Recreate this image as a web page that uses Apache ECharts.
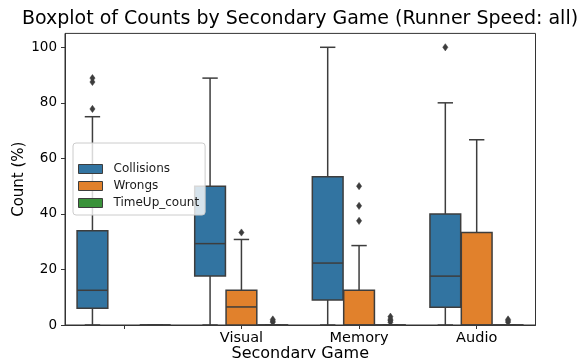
<!DOCTYPE html>
<html>
<head>
<meta charset="utf-8">
<script src="https://cdn.jsdelivr.net/npm/echarts@6/dist/echarts.min.js"></script>
<style>
  html, body { margin: 0; padding: 0; background: #ffffff; }
  #chart { width: 579px; height: 358px; }
</style>
</head>
<body>
<div id="chart"></div>
<script>
// Categories along the x axis (first group has no secondary game label)
const categories = ['', 'Visual', 'Memory', 'Audio'];
const hueNames = ['Collisions', 'Wrongs', 'TimeUp_count'];
const hueColors = ['#3274a1', '#e1812c', '#3a923a'];
const yTicks = [0, 20, 40, 60, 80, 100];

// Box statistics per category: [whisker low, Q1, median, Q3, whisker high]
const collisionsStats = [
  [0, 6.0, 12.5, 33.9, 75.0],
  [0, 17.6, 29.3, 50.0, 88.9],
  [0, 9.0, 22.3, 53.4, 100.0],
  [0, 6.4, 17.6, 40.0, 80.0]
];
const wrongsStats = [
  null,
  [0, 0, 6.5, 12.5, 30.8],
  [0, 0, 0, 12.5, 28.6],
  [0, 0, 0, 33.3, 66.7]
];
const timeUpStats = [
  [0, 0, 0, 0, 0],
  [0, 0, 0, 0, 0],
  [0, 0, 0, 0, 0],
  [0, 0, 0, 0, 0]
];

// Flier points per category
const collisionsOutliers = [[77.8, 87.5, 88.9], [], [], [100]];
const wrongsOutliers = [[], [33.3], [37.5, 42.9, 50.0], []];
const timeUpOutliers = [[], [1.0, 1.4, 2.0], [1.0, 1.6, 2.1, 3.0], [1.0, 1.5, 2.0]];

const statsByHue = [collisionsStats, wrongsStats, timeUpStats];
const outliersByHue = [collisionsOutliers, wrongsOutliers, timeUpOutliers];

const EDGE = '#3d3d3d';
const GROUP_WIDTH = 0.8;
const nHue = hueNames.length;

function hueOffset(h) {
  return (h - (nHue - 1) / 2) * GROUP_WIDTH / nHue;
}

function makeBoxRender(h, color) {
  return function (params, api) {
    const cat = api.value(0);
    const band = api.size([1, 0])[0];
    const cx = api.coord([cat, 0])[0] + hueOffset(h) * band;
    const w = band * GROUP_WIDTH / nHue * 0.98;
    const y = (v) => api.coord([cat, v])[1];
    const lo = y(api.value(1)), q1 = y(api.value(2)), med = y(api.value(3)),
          q3 = y(api.value(4)), hi = y(api.value(5));
    const lineStyle = { stroke: EDGE, lineWidth: 1.5, fill: null };
    return {
      type: 'group',
      children: [
        { type: 'line', shape: { x1: cx, y1: q1, x2: cx, y2: lo }, style: lineStyle },
        { type: 'line', shape: { x1: cx, y1: q3, x2: cx, y2: hi }, style: lineStyle },
        { type: 'line', shape: { x1: cx - w / 4, y1: lo, x2: cx + w / 4, y2: lo }, style: lineStyle },
        { type: 'line', shape: { x1: cx - w / 4, y1: hi, x2: cx + w / 4, y2: hi }, style: lineStyle },
        { type: 'rect', shape: { x: cx - w / 2, y: q3, width: w, height: q1 - q3 },
          style: { fill: color, stroke: EDGE, lineWidth: 1.5 } },
        { type: 'line', shape: { x1: cx - w / 2, y1: med, x2: cx + w / 2, y2: med }, style: lineStyle }
      ]
    };
  };
}

function makeFlierRender(h) {
  return function (params, api) {
    const cat = api.value(0);
    const band = api.size([1, 0])[0];
    const p = api.coord([cat, api.value(1)]);
    const cx = p[0] + hueOffset(h) * band;
    const cy = p[1];
    const hw = 2.6, hh = 3.6;
    return {
      type: 'polygon',
      shape: { points: [[cx, cy - hh], [cx + hw, cy], [cx, cy + hh], [cx - hw, cy]] },
      style: { fill: EDGE, stroke: EDGE, lineWidth: 0.5 }
    };
  };
}

const series = [];
for (let h = 0; h < nHue; h++) {
  const boxData = [];
  statsByHue[h].forEach((s, i) => { if (s) boxData.push([i].concat(s)); });
  const flierData = [];
  outliersByHue[h].forEach((list, i) => list.forEach(v => flierData.push([i, v])));
  series.push({
    name: hueNames[h],
    type: 'custom',
    renderItem: makeBoxRender(h, hueColors[h]),
    itemStyle: { color: hueColors[h] },
    encode: { x: 0, y: [1, 2, 3, 4, 5] },
    clip: false,
    z: 2,
    data: boxData
  });
  series.push({
    name: hueNames[h],
    type: 'custom',
    renderItem: makeFlierRender(h),
    itemStyle: { color: hueColors[h] },
    encode: { x: 0, y: 1 },
    clip: false,
    z: 3,
    data: flierData
  });
}

const chart = echarts.init(document.getElementById('chart'), null, { renderer: 'canvas' });
chart.setOption({
  animation: false,
  backgroundColor: '#ffffff',
  textStyle: { fontFamily: 'DejaVu Sans' },
  title: {
    text: 'Boxplot of Counts by Secondary Game (Runner Speed: all)',
    left: 300,
    top: 10,
    padding: 0,
    textAlign: 'center',
    textStyle: { fontFamily: 'DejaVu Sans', fontSize: 19, fontWeight: 'normal', color: '#000000' }
  },
  legend: {
    orient: 'vertical',
    left: 73,
    top: 143,
    padding: [20, 6, 6, 5],
    itemWidth: 24,
    itemHeight: 9,
    itemGap: 5,
    icon: 'rect',
    backgroundColor: 'rgba(255,255,255,0.8)',
    borderColor: '#cccccc',
    borderWidth: 1,
    borderRadius: 3,
    z: 10,
    textStyle: { fontFamily: 'DejaVu Sans', fontSize: 12, lineHeight: 12, color: '#1a1a1a', padding: [0, 0, 0, 6] },
    data: hueNames.map((n, i) => ({
      name: n,
      itemStyle: { color: hueColors[i], borderColor: EDGE, borderWidth: 1 }
    }))
  },
  grid: {
    left: 65,
    right: 43.5,
    top: 33.4,
    bottom: 33,
    outerBoundsMode: 'none',
    containLabel: false,
    show: true,
    borderColor: '#333333',
    borderWidth: 1,
    backgroundColor: 'transparent'
  },
  xAxis: {
    type: 'category',
    data: categories,
    name: 'Secondary Game',
    nameLocation: 'middle',
    nameGap: 21,
    nameMoveOverlap: false,
    nameTextStyle: { fontFamily: 'DejaVu Sans', fontSize: 16, color: '#000000' },
    axisLine: { show: true, lineStyle: { color: '#333333', width: 1 } },
    axisTick: { show: true, alignWithLabel: true, length: 4, lineStyle: { color: '#333333' } },
    axisLabel: { fontFamily: 'DejaVu Sans', fontSize: 14.5, color: '#000000', margin: 6 },
    splitLine: { show: false }
  },
  yAxis: {
    type: 'value',
    min: 0,
    max: 105,
    name: 'Count (%)',
    nameLocation: 'middle',
    nameGap: 38,
    nameMoveOverlap: false,
    nameTextStyle: { fontFamily: 'DejaVu Sans', fontSize: 15, color: '#000000' },
    axisLine: { show: true, lineStyle: { color: '#333333', width: 1 } },
    axisTick: { show: true, length: 4, customValues: yTicks, lineStyle: { color: '#333333' } },
    axisLabel: { fontFamily: 'DejaVu Sans', fontSize: 13.5, color: '#000000', margin: 8, customValues: yTicks },
    splitLine: { show: false }
  },
  series: series
});
</script>
</body>
</html>
